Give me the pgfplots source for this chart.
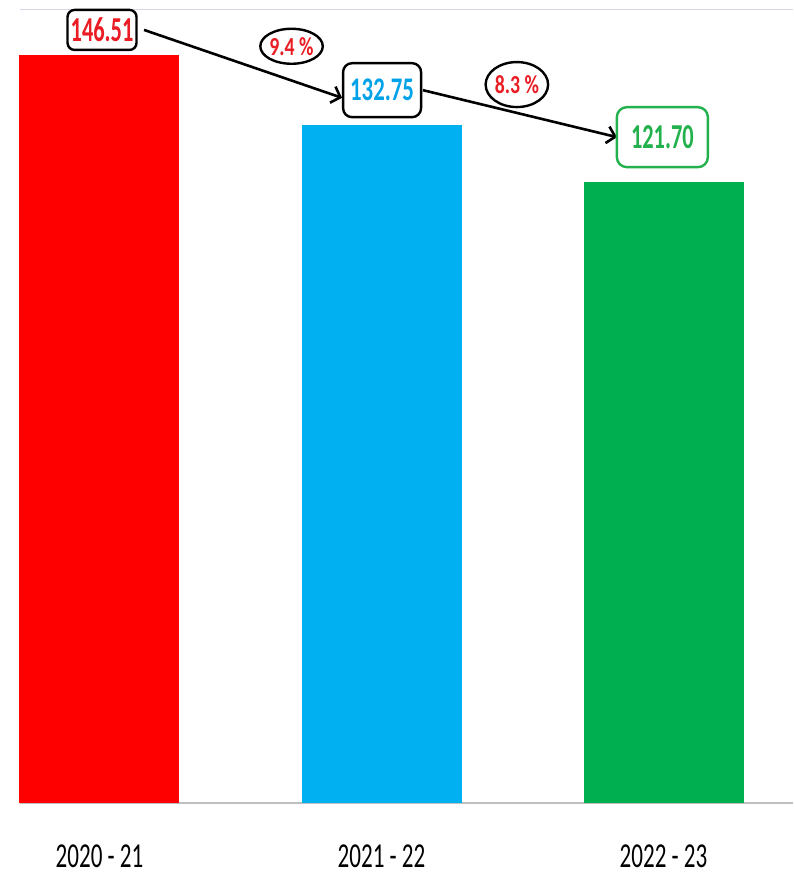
\documentclass[border=0pt]{standalone}
\usepackage{pgfplots}
\pgfplotsset{compat=1.18}
\usepackage{fontspec}
\setmainfont{Carlito}
\usetikzlibrary{arrows.meta,shapes.geometric}
\definecolor{barred}{HTML}{FF0000}
\definecolor{barblue}{HTML}{00B0F0}
\definecolor{bargreen}{HTML}{00B050}
\definecolor{txtred}{HTML}{EA1C24}
\definecolor{txtblue}{HTML}{00A2E8}
\definecolor{txtgreen}{HTML}{22B14C}
\begin{document}
\begin{tikzpicture}
\path[use as bounding box] (-20pt,-72pt) rectangle (773pt,803pt);
\begin{axis}[
  at={(0pt,0pt)}, anchor=south west,
  width=773pt, height=794pt, scale only axis,
  xmin=-0.2819, xmax=2.4592, ymin=0, ymax=155.5,
  axis x line*=bottom, axis y line=none,
  x axis line style={draw=black!25, line width=1.2pt},
  ytick=\empty,
  xtick={0,1,2},
  xticklabels={{\scalebox{0.66}[1]{2020 - 21}},{\scalebox{0.66}[1]{2021 - 22}},{\scalebox{0.66}[1]{2022 - 23}}},
  xticklabel style={font=\fontsize{35}{35}\selectfont, anchor=base, yshift=-64pt, inner sep=0pt},
  major tick length=0pt,
  ybar, bar width=160pt, bar shift=0pt,
  clip=false,
]
\addplot[fill=barred, draw=none] coordinates {(0,146.51)};
\addplot[fill=barblue, draw=none] coordinates {(1,132.75)};
\addplot[fill=bargreen, draw=none] coordinates {(2,121.70)};

\draw[draw=blue!30!gray!25, line width=0.8pt] (rel axis cs:0,1) -- (rel axis cs:1,1);

\draw[line width=2.6pt, -{Straight Barb[length=8pt, width=17pt, line width=2.6pt]}] (axis cs:0.158,151.4) -- (axis cs:0.860,138.1);
\draw[line width=2.6pt, -{Straight Barb[length=8pt, width=17pt, line width=2.6pt]}] (axis cs:1.147,139.6) -- (axis cs:1.835,130.4);

\node[draw=black, line width=2.4pt, rounded corners=7pt, fill=white, minimum width=69pt, minimum height=40pt, inner sep=0pt, text=txtred, font=\bfseries\fontsize{35}{35}\selectfont] at (axis cs:0.009,151.4) {\scalebox{0.64}[1]{146.51}};
\node[draw=black, line width=2.4pt, rounded corners=9pt, fill=white, minimum width=78pt, minimum height=54pt, inner sep=0pt, text=txtblue, font=\bfseries\fontsize{33}{33}\selectfont] at (axis cs:1.002,139.6) {\scalebox{0.69}[1]{132.75}};
\node[draw=txtgreen, line width=2.4pt, rounded corners=10pt, fill=white, minimum width=91pt, minimum height=60pt, inner sep=0pt, text=txtgreen, font=\bfseries\fontsize{35}{35}\selectfont] at (axis cs:1.996,130.4) {\scalebox{0.64}[1]{121.70}};

\node[ellipse, draw=black, line width=2.4pt, fill=white, minimum width=61pt, minimum height=35pt, inner sep=0pt, text=txtred, font=\bfseries\fontsize{26}{26}\selectfont] at (axis cs:0.681,148.2) {\scalebox{0.76}[1]{9.4 \%}};
\node[ellipse, draw=black, line width=2.4pt, fill=white, minimum width=54pt, minimum height=45pt, inner sep=0pt, text=txtred, font=\bfseries\fontsize{26}{26}\selectfont] at (axis cs:1.480,140.7) {\scalebox{0.76}[1]{8.3 \%}};
\end{axis}
\end{tikzpicture}
\end{document}
